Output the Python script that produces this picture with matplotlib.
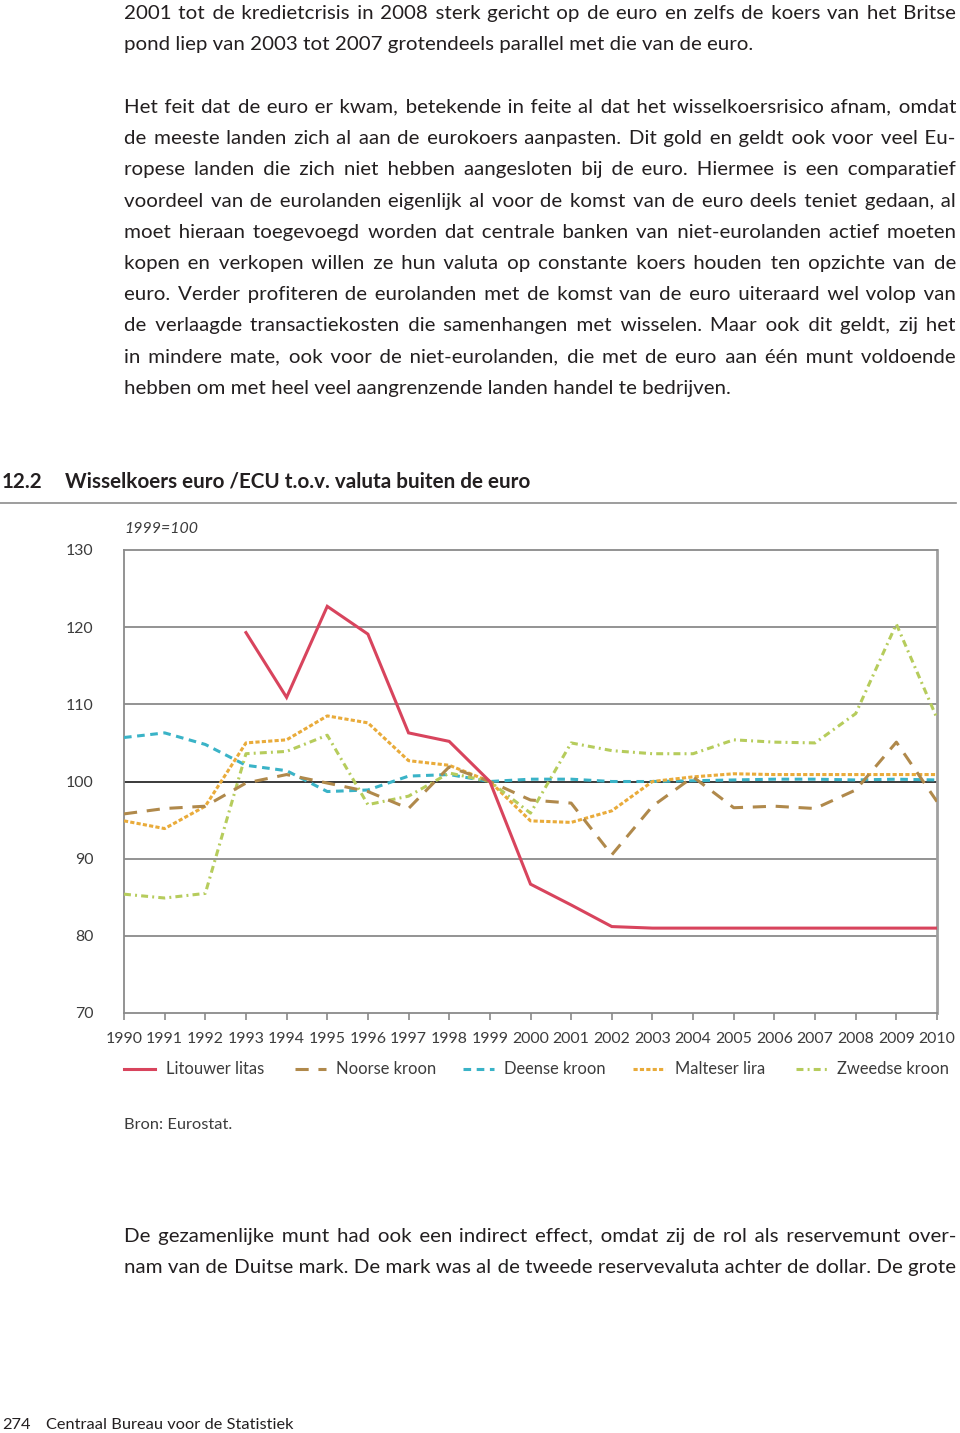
import matplotlib
matplotlib.use('Agg')
import matplotlib.pyplot as plt
from matplotlib.lines import Line2D
import numpy as np

# ---------------- data ----------------
years = list(range(1990, 2011))
nan = np.nan
litouwer_litas = [nan, nan, nan, 119.3, 110.9, 122.7, 119.1, 106.3, 105.2, 100.0,
                  86.7, 84.0, 81.2, 81.0, 81.0, 81.0, 81.0, 81.0, 81.0, 81.0, 81.0]
noorse_kroon = [95.8, 96.5, 96.8, 99.8, 100.9, 99.8, 98.7, 96.5, 101.9, 100.0,
                97.6, 97.2, 90.5, 96.8, 100.6, 96.6, 96.8, 96.5, 98.9, 105.1, 97.4]
deense_kroon = [105.7, 106.3, 104.8, 102.1, 101.4, 98.7, 98.9, 100.7, 100.9, 100.0,
                100.3, 100.3, 100.0, 100.0, 100.1, 100.2, 100.3, 100.3, 100.2, 100.3, 100.2]
malteser_lira = [94.9, 93.9, 96.8, 105.0, 105.4, 108.5, 107.6, 102.7, 102.1, 100.0,
                 94.9, 94.7, 96.2, 100.0, 100.6, 101.0, 100.9, 100.9, 100.9, 100.9, 100.9]
zweedse_kroon = [85.4, 84.9, 85.5, 103.6, 103.9, 106.0, 97.0, 98.1, 101.1, 100.0,
                 95.9, 105.0, 104.0, 103.6, 103.6, 105.4, 105.1, 105.0, 108.8, 120.4, 108.2]
series_labels = ['Litouwer litas', 'Noorse kroon', 'Deense kroon', 'Malteser lira', 'Zweedse kroon']
y_ticks = [70, 80, 90, 100, 110, 120, 130]

top_lines = [
    ("2001 tot de kredietcrisis in 2008 sterk gericht op de euro en zelfs de koers van het Britse", True),
    ("pond liep van 2003 tot 2007 grotendeels parallel met die van de euro.", False),
    ("", False),
    ("Het feit dat de euro er kwam, betekende in feite al dat het wisselkoersrisico afnam, omdat", True),
    ("de meeste landen zich al aan de eurokoers aanpasten. Dit gold en geldt ook voor veel Eu-", True),
    ("ropese landen die zich niet hebben aangesloten bij de euro. Hiermee is een comparatief", True),
    ("voordeel van de eurolanden eigenlijk al voor de komst van de euro deels teniet gedaan, al", True),
    ("moet hieraan toegevoegd worden dat centrale banken van niet-eurolanden actief moeten", True),
    ("kopen en verkopen willen ze hun valuta op constante koers houden ten opzichte van de", True),
    ("euro. Verder profiteren de eurolanden met de komst van de euro uiteraard wel volop van", True),
    ("de verlaagde transactiekosten die samenhangen met wisselen. Maar ook dit geldt, zij het", True),
    ("in mindere mate, ook voor de niet-eurolanden, die met de euro aan één munt voldoende", True),
    ("hebben om met heel veel aangrenzende landen handel te bedrijven.", False),
]
bottom_lines = [
    ("De gezamenlijke munt had ook een indirect effect, omdat zij de rol als reservemunt over-", True),
    ("nam van de Duitse mark. De mark was al de tweede reservevaluta achter de dollar. De grote", True),
]

# ---------------- figure ----------------
W, H = 960, 1433
FAMILY = ['Lato', 'DejaVu Sans']
plt.rcParams['font.family'] = FAMILY
plt.rcParams['lines.scale_dashes'] = False
fig = plt.figure(figsize=(W / 100, H / 100), dpi=100)
renderer = fig.canvas.get_renderer()

def fx(x):
    return x / W

def fy(y):
    return 1 - y / H

def text_width(s, **kw):
    t = fig.text(0, 0, s, **kw)
    w = t.get_window_extent(renderer).width
    t.remove()
    return w

def fit_size(s, target, base=12, **kw):
    return base * target / text_width(s, fontsize=base, **kw)

TXT = '#231f20'
GRAY_TXT = '#3c3c3c'

def justified_string(s, fs, total):
    """Build one string whose rendered width is ~total, widening gaps with hair spaces."""
    words = s.split(' ')
    widths = [text_width(w, fontsize=fs) for w in words]
    g = (total - sum(widths)) / (len(words) - 1)
    filler = '\u200a'
    fw = text_width('a' + filler + 'a', fontsize=fs) - text_width('aa', fontsize=fs)
    if fw < 0.3:
        filler = '\u2009'
        fw = text_width('a' + filler + 'a', fontsize=fs) - text_width('aa', fontsize=fs)
    out = words[0]
    for i in range(1, len(words)):
        target = sum(widths[:i + 1]) + i * g
        base_s = out + ' ' + words[i]
        wb = text_width(base_s, fontsize=fs)
        n = max(0, int(round((target - wb) / fw))) if fw > 0.3 else 0
        best, bestd = base_s, abs(wb - target)
        for k in (n - 1, n, n + 1):
            if k <= 0:
                continue
            cand = out + ' ' + filler * k + words[i]
            wc = text_width(cand, fontsize=fs)
            if abs(wc - target) < bestd:
                best, bestd = cand, abs(wc - target)
        out = best
    return out

def put_line(s, y, justify, fs, color, x0=124, x1=956):
    if not s:
        return
    if justify:
        s = justified_string(s, fs, x1 - x0)
    fig.text(fx(x0), fy(y), s, va='baseline', ha='left', fontsize=fs, color=color)

# body font size: fit so that the tightest justified line still has normal gaps
just_lines = [s for s, j in top_lines + bottom_lines if j]
base = 15
needed = max(text_width(s, fontsize=base) for s in just_lines)
body_fs = base * 830 / needed

y0 = 19
for i, (s, j) in enumerate(top_lines):
    put_line(s, y0 + 31.25 * i, j, body_fs, TXT)
for i, (s, j) in enumerate(bottom_lines):
    put_line(s, 1242 + 31.25 * i, j, body_fs, TXT)

# title
title = 'Wisselkoers euro /ECU t.o.v. valuta buiten de euro'
tfs = fit_size(title, 467, base=14, fontweight='bold')
fig.text(fx(2), fy(488), '12.2', fontsize=tfs, fontweight='bold', color=TXT, va='baseline')
fig.text(fx(65), fy(488), title, fontsize=tfs, fontweight='bold', color=TXT, va='baseline')
fig.add_artist(Line2D([0, fx(956)], [fy(503), fy(503)], color='#8c8c8c', lw=1.2))

sfs = fit_size('1999=100', 74, base=11, fontstyle='italic')
fig.text(fx(124), fy(533), '1999=100', fontsize=sfs, fontstyle='italic', color=GRAY_TXT, va='baseline')

# ---------------- axes ----------------
ax = fig.add_axes([fx(124), fy(1013), fx(937) - fx(124), fy(550) - fy(1013)])
ax.set_xlim(1990, 2010)
ax.set_ylim(70, 130)

for yv in [80, 90, 110, 120]:
    ax.axhline(yv, color='#8a8a8a', lw=1.3, zorder=1)
ax.axhline(100, color='#2b2b2b', lw=1.3, zorder=1)

ax.plot(years, litouwer_litas, color='#d8445d', lw=2.2, solid_joinstyle='miter', zorder=5)
ax.plot(years, noorse_kroon, color='#b0894b', lw=2.2, dashes=(9.5, 7.0), zorder=4)
ax.plot(years, deense_kroon, color='#3ab3c7', lw=2.2, dashes=(5.5, 4.0), zorder=3)
ax.plot(years, malteser_lira, color='#e9ab3a', lw=2.2, dashes=(3.0, 1.6), zorder=3)
ax.plot(years, zweedse_kroon, color='#b6cc5c', lw=2.2, dashes=(5.0, 3.0, 1.4, 3.0), zorder=3)

for side in ['top', 'left', 'bottom']:
    ax.spines[side].set_color('#8a8a8a')
    ax.spines[side].set_linewidth(1.3)
ax.spines['right'].set_color('#a0a0a0')
ax.spines['right'].set_linewidth(2.0)

tick_fs = fit_size('1990', 37, base=11)
ax.set_xticks(years)
ax.set_xticklabels([str(y) for y in years])
ax.set_yticks(y_ticks)
ax.set_yticklabels([str(v) for v in y_ticks])
ax.tick_params(axis='x', direction='out', length=5, width=1.2, color='#8a8a8a',
               labelsize=tick_fs, labelcolor=GRAY_TXT, pad=9)
ax.tick_params(axis='y', length=0, labelsize=tick_fs, labelcolor=GRAY_TXT, pad=22)

# ---------------- legend ----------------
leg_y = 1069
leg_fs = fit_size('Litouwer litas', 98, base=11)
handles = [
    (124, 155, dict(color='#d8445d', lw=2.2)),
    (295, 326, dict(color='#b0894b', lw=2.2, dashes=(9.5, 7.0))),
    (463, 494, dict(color='#3ab3c7', lw=2.2, dashes=(5.5, 4.0))),
    (633, 665, dict(color='#e9ab3a', lw=2.2, dashes=(3.0, 1.6))),
    (796, 827, dict(color='#b6cc5c', lw=2.2, dashes=(5.0, 3.0, 1.4, 3.0))),
]
text_x = [166, 336, 504, 675, 837]
for (xa, xb, kw), tx, lab in zip(handles, text_x, series_labels):
    fig.add_artist(Line2D([fx(xa), fx(xb)], [fy(leg_y), fy(leg_y)], **kw))
    fig.text(fx(tx), fy(leg_y), lab, fontsize=leg_fs, color=GRAY_TXT, va='center')

# source and footer
bfs = fit_size('Bron: Eurostat.', 108, base=11)
fig.text(fx(124), fy(1129), 'Bron: Eurostat.', fontsize=bfs, color=GRAY_TXT, va='baseline')
ffs = fit_size('Centraal Bureau voor de Statistiek', 246, base=11)
fig.text(fx(2), fy(1429), '274', fontsize=ffs, color=TXT, va='baseline')
fig.text(fx(46), fy(1429), 'Centraal Bureau voor de Statistiek', fontsize=ffs, color=TXT, va='baseline')

fig.savefig('out.png', dpi=100, facecolor='white')
